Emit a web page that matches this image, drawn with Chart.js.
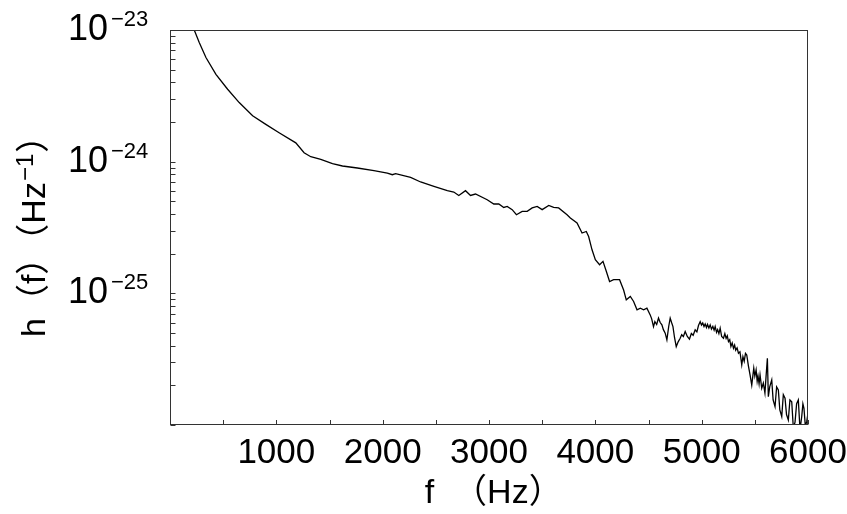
<!DOCTYPE html>
<html><head><meta charset="utf-8">
<script src="https://cdn.jsdelivr.net/npm/chart.js@4"></script>
<style>html,body{margin:0;padding:0;background:#fff;overflow:hidden}canvas{display:block}</style>
</head><body>
<canvas id="c" width="847" height="514"></canvas>
<script>
// ---- data ----
const freqHz = [188,228,275,338,432,542,651,777,901,1026,1183,1261,1324,1418,1528,1622,1762,1918,2044,2091,2122,2263,2357,2482,2608,2669,2716,2779,2826,2873,2983,3045,3092,3139,3171,3218,3258,3312,3359,3406,3453,3500,3562,3608,3655,3734,3765,3828,3875,3915,3937,3969,4000,4040,4072,4103,4134,4172,4228,4266,4291,4329,4360,4392,4423,4454,4485,
  4516,4530,4547,4560,4577,4594,4610,4626,4640,4657,4673,4690,4704,4717,4730,4745,4761,4780,4798,4812,4828,4845,4865,4885,4903,4920,4939,4955,4970,4986,4998,
  5010,5022,5033,5045,5055,5068,5080,5092,5105,5117,5127,5140,5150,5162,5174,5188,5205,5218,5230,5241,5252,5264,5275,5287,5299,5310,5320,5333,5346,5360,5377,5388,5400,5412,5424,5440,5455,5471,5490,5500,
  5512,5522,5530,5540,5549,5565,5580,5595,5605,5618,5627,5640,5659,5672,5690,5705,5721,5735,5753,5768,5784,5798,5815,5830,5847,5862,5878,5893,5909,5925,5941,5952,5962,5975,5988,6000];
const strainH = [1.2e-23,1.0e-23,8.03e-24,6.18e-24,4.61e-24,3.55e-24,2.81e-24,2.23e-24,1.92e-24,1.66e-24,1.39e-24,1.17e-24,1.09e-24,1.04e-24,9.66e-25,9.27e-25,8.95e-25,8.54e-25,8.20e-25,7.96e-25,8.10e-25,7.60e-25,7.01e-25,6.49e-25,6.02e-25,5.88e-25,5.54e-25,6.02e-25,5.54e-25,5.68e-25,5.14e-25,4.77e-25,4.77e-25,4.49e-25,4.57e-25,4.32e-25,3.95e-25,4.19e-25,4.19e-25,4.45e-25,4.57e-25,4.32e-25,4.65e-25,4.49e-25,4.45e-25,3.95e-25,3.73e-25,3.42e-25,2.87e-25,2.95e-25,2.70e-25,2.14e-25,1.80e-25,1.65e-25,1.75e-25,1.47e-25,1.23e-25,1.27e-25,1.27e-25,1.06e-25,8.93e-26,9.46e-26,8.67e-26,7.49e-26,7.72e-26,7.49e-26,7.72e-26,
  6.86e-26,6.40e-26,5.59e-26,6.10e-26,5.80e-26,6.48e-26,6.00e-26,5.76e-26,5.30e-26,4.98e-26,4.43e-26,5.60e-26,6.48e-26,6.00e-26,5.59e-26,4.60e-26,3.94e-26,4.30e-26,4.56e-26,4.85e-26,4.70e-26,5.12e-26,4.70e-26,4.48e-26,4.95e-26,4.80e-26,5.28e-26,5.10e-26,5.70e-26,6.10e-26,5.75e-26,
  5.95e-26,5.60e-26,5.86e-26,5.50e-26,5.80e-26,5.45e-26,5.76e-26,5.35e-26,5.60e-26,5.25e-26,5.59e-26,5.05e-26,5.30e-26,4.95e-26,5.44e-26,4.70e-26,4.56e-26,4.95e-26,4.55e-26,4.75e-26,4.30e-26,4.45e-26,3.95e-26,4.20e-26,3.83e-26,4.05e-26,3.70e-26,3.85e-26,3.51e-26,3.60e-26,2.86e-26,3.30e-26,3.05e-26,3.50e-26,3.40e-26,2.80e-26,2.40e-26,2.01e-26,2.70e-26,2.35e-26,
  2.62e-26,2.15e-26,2.35e-26,2.05e-26,2.40e-26,1.90e-26,2.08e-26,1.75e-26,2.30e-26,3.21e-26,1.64e-26,1.95e-26,2.20e-26,1.55e-26,1.38e-26,1.95e-26,1.85e-26,1.30e-26,1.16e-26,1.70e-26,1.60e-26,1.20e-26,1.09e-26,1.55e-26,1.50e-26,0.95e-26,1.05e-26,1.45e-26,1.55e-26,0.92e-26,1.16e-26,1.45e-26,1.34e-26,0.98e-26,1.06e-26,1.23e-26];
const xTickLabels = [1000, 2000, 3000, 4000, 5000, 6000];
const yDecadeExponents = [-23, -24, -25];
const xTitle = ' f  （Hz）';
const yTitleMain = 'h（f）（Hz';
const yTitleSup = '−1';
const yTitleEnd = '）';

const FONT = '"Liberation Sans", Arial, "Noto Sans CJK SC", sans-serif';
const INK = '#333';

const points = freqHz.map((f, i) => ({x: f, y: strainH[i]}));

const decorPlugin = {
  id: 'decor',
  afterDatasetsDraw(chart) {
    const {ctx, chartArea: a} = chart;
    const xs = chart.scales.x, ys = chart.scales.y;
    const L = Math.round(a.left), R = Math.round(a.right), T = Math.round(a.top), B = Math.round(a.bottom);
    ctx.save();
    ctx.strokeStyle = INK;
    ctx.lineWidth = 1;
    ctx.strokeRect(L + 0.5, T + 0.5, R - L - 1, B - T - 1);
    ctx.beginPath();
    xs.ticks.forEach(t => {
      const px = Math.round(xs.getPixelForValue(t.value)) + 0.5;
      ctx.moveTo(px, B - 0.5);
      ctx.lineTo(px, B - 5);
    });
    ys.ticks.forEach(t => {
      const py = Math.round(ys.getPixelForValue(t.value)) + 0.5;
      ctx.moveTo(L + 0.5, py);
      ctx.lineTo(L + 5.5, py);
    });
    ctx.stroke();
    ctx.restore();
  },
  afterDraw(chart) {
    const {ctx} = chart;
    const ys = chart.scales.y;
    ctx.save();
    ctx.fillStyle = '#000';
    ctx.textBaseline = 'alphabetic';
    yDecadeExponents.forEach(e => {
      const py = ys.getPixelForValue(Math.pow(10, e));
      ctx.font = '36px ' + FONT;
      ctx.textAlign = 'right';
      ctx.fillText('10', 108, py + 10);
      ctx.font = '22px ' + FONT;
      ctx.textAlign = 'left';
      ctx.fillText('−' + Math.abs(e), 111, py - 4);
    });
    ctx.translate(45, 337);
    ctx.rotate(-Math.PI / 2);
    ctx.textAlign = 'left';
    ctx.font = '34px ' + FONT;
    ctx.fillText(yTitleMain, 0, 0);
    let w = ctx.measureText(yTitleMain).width;
    ctx.font = '24px ' + FONT;
    ctx.fillText(yTitleSup, w + 1, -12);
    w += ctx.measureText(yTitleSup).width + 2;
    ctx.font = '34px ' + FONT;
    ctx.fillText(yTitleEnd, w, 0);
    ctx.restore();
  }
};

new Chart(document.getElementById('c'), {
  type: 'line',
  data: {
    datasets: [{
      data: points,
      borderColor: '#000',
      borderWidth: 1.3,
      pointRadius: 0,
      tension: 0,
      fill: false,
      clip: 0
    }]
  },
  options: {
    responsive: false,
    devicePixelRatio: 1,
    animation: false,
    layout: {padding: {top: 30, right: 39, bottom: 0, left: 0}},
    plugins: {legend: {display: false}, tooltip: {enabled: false}},
    scales: {
      x: {
        type: 'linear',
        min: 0, max: 6000,
        afterFit(s) { s.height = 89; s.paddingLeft = 0; s.paddingRight = 0; },
        border: {display: false},
        grid: {display: false, drawOnChartArea: false, drawTicks: true, tickLength: -4},
        ticks: {
          stepSize: 500,
          autoSkip: false,
          maxRotation: 0,
          padding: 11,
          color: '#000',
          font: {family: FONT, size: 35},
          callback: v => xTickLabels.includes(v) ? String(v) : ''
        },
        title: {display: true, text: xTitle, color: '#000', font: {family: FONT, size: 34}, padding: {top: 0, bottom: 0}}
      },
      y: {
        type: 'logarithmic',
        min: 1e-26, max: 1e-23,
        afterFit(s) { s.width = 170; s.paddingTop = 0; s.paddingBottom = 0; },
        afterBuildTicks(s) {
          const t = [];
          for (let e = -26; e <= -24; e++) for (let m = 1; m <= 9; m++) t.push({value: m * Math.pow(10, e)});
          t.push({value: 1e-23});
          s.ticks = t;
        },
        border: {display: false},
        grid: {display: false, drawOnChartArea: false, drawTicks: true, tickLength: -5},
        ticks: {display: false, autoSkip: false}
      }
    }
  },
  plugins: [decorPlugin]
});
</script>
</body></html>
